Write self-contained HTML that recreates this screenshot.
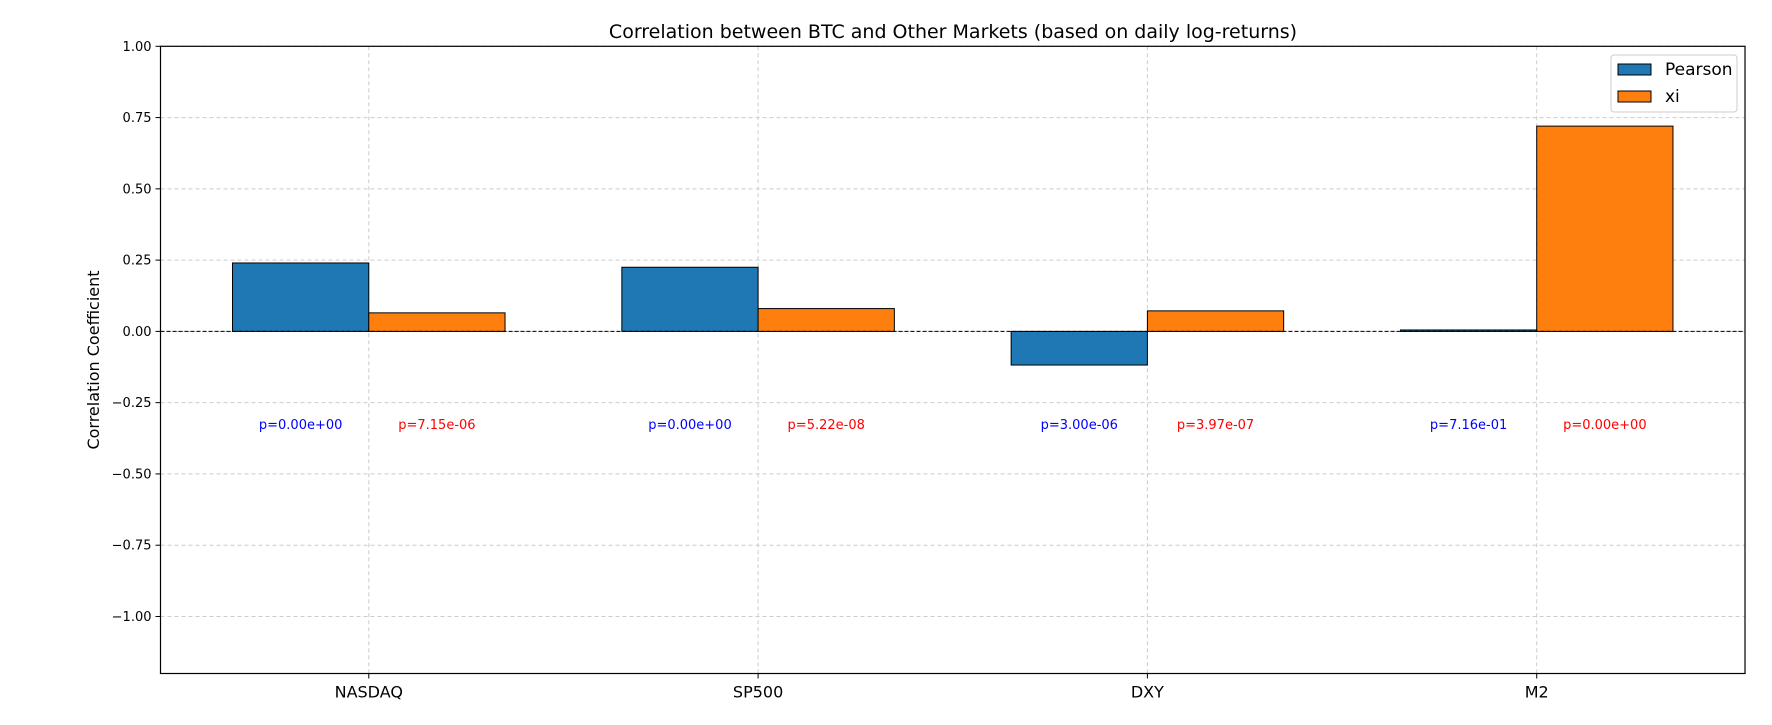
<!DOCTYPE html>
<html><head><meta charset="utf-8"><style>
body{margin:0;background:#fff}
svg{display:block;font-family:"DejaVu Sans","Liberation Sans",sans-serif}
</style></head><body>
<svg id="chart" width="1772" height="725" xmlns="http://www.w3.org/2000/svg">
<text x="953" y="38" text-anchor="middle" font-size="19">Correlation between BTC and Other Markets (based on daily log-returns)</text>
<text transform="translate(99,360) rotate(-90)" text-anchor="middle" font-size="16">Correlation Coefficient</text>
<g id="grid"></g><g id="bars"></g><g id="labels"></g>
<rect x="160.5" y="46.3" width="1584.5" height="627.2" fill="none" stroke="#000" stroke-width="1.2"/>
<g>
<rect x="1611" y="55" width="126" height="57" fill="#fff" stroke="#ccc" rx="3"/>
<rect x="1618" y="64" width="33" height="11" fill="#1f77b4" stroke="#000"/>
<text x="1665" y="75" font-size="17">Pearson</text>
<rect x="1618" y="91" width="33" height="11" fill="#ff7f0e" stroke="#000"/>
<text x="1665" y="102" font-size="17">xi</text>
</g>
</svg>
<script>
const categories=["NASDAQ","SP500","DXY","M2"];
const pearson=[0.24,0.225,-0.118,0.005];
const xi=[0.065,0.08,0.072,0.72];
const pPearson=["p=0.00e+00","p=0.00e+00","p=3.00e-06","p=7.16e-01"];
const pXi=["p=7.15e-06","p=5.22e-08","p=3.97e-07","p=0.00e+00"];
const yTicks=[1.0,0.75,0.5,0.25,0,-0.25,-0.5,-0.75,-1.0];
const tickText=["1.00","0.75","0.50","0.25","0.00","\u22120.25","\u22120.50","\u22120.75","\u22121.00"];
const NS="http://www.w3.org/2000/svg";
const L=160.5,R=1745,T=46.3,B=673.5;
const XMIN=-0.535,XMAX=3.535;
const xS=i=>L+(i-XMIN)/(XMAX-XMIN)*(R-L);
const yS=v=>T+(1-v)/2.2*(B-T);
const bw=0.35/(XMAX-XMIN)*(R-L);
function mk(tag,at,par){const e=document.createElementNS(NS,tag);for(const k in at)e.setAttribute(k,at[k]);document.getElementById(par).appendChild(e);return e;}
yTicks.forEach((v,i)=>{
 const g=mk("line",{x1:L,x2:R,y1:yS(v),y2:yS(v),stroke:"#ccc","stroke-dasharray":"4,3"},"grid");
 
 
 const tk=mk("line",{x1:L-5,x2:L,y1:yS(v),y2:yS(v),stroke:"#000"},"grid");
 
 
 const t=mk("text",{x:L-9,y:yS(v)+4.5,"text-anchor":"end","font-size":"13"},"labels");
 t.textContent=tickText[i];
 
 
});
categories.forEach((c,i)=>{
 const x=xS(i);
 const g=mk("line",{x1:x,x2:x,y1:T,y2:B,stroke:"#ccc","stroke-dasharray":"4,3"},"grid");
 
 
 const tk=mk("line",{x1:x,x2:x,y1:B,y2:B+5,stroke:"#000"},"grid");
 
 
 const t=mk("text",{x:x,y:B+24,"text-anchor":"middle","font-size":"16"},"labels");
 t.textContent=c;
 
 
 [[pearson[i],"#1f77b4",-1,pPearson[i],"blue","pearson"],[xi[i],"#ff7f0e",0,pXi[i],"red","xi"]].forEach(([v,col,off,pt,tc,nm])=>{
  const y0=yS(0),y1=yS(v);
  const r=mk("rect",{x:x+off*bw,y:Math.min(y0,y1),width:bw,height:Math.max(Math.abs(y1-y0),0.8),fill:col,stroke:"#000","stroke-width":"1"},"bars");
  
  
  const p=mk("text",{x:x+off*bw+bw/2,y:yS(-0.325)+5,"text-anchor":"middle","font-size":"13",fill:tc},"labels");
  p.textContent=pt;
  
  
 });
});
const z=mk("line",{x1:L,x2:R,y1:yS(0),y2:yS(0),stroke:"#000","stroke-dasharray":"4,2","stroke-width":"1"},"bars");


</script>
</body></html>
